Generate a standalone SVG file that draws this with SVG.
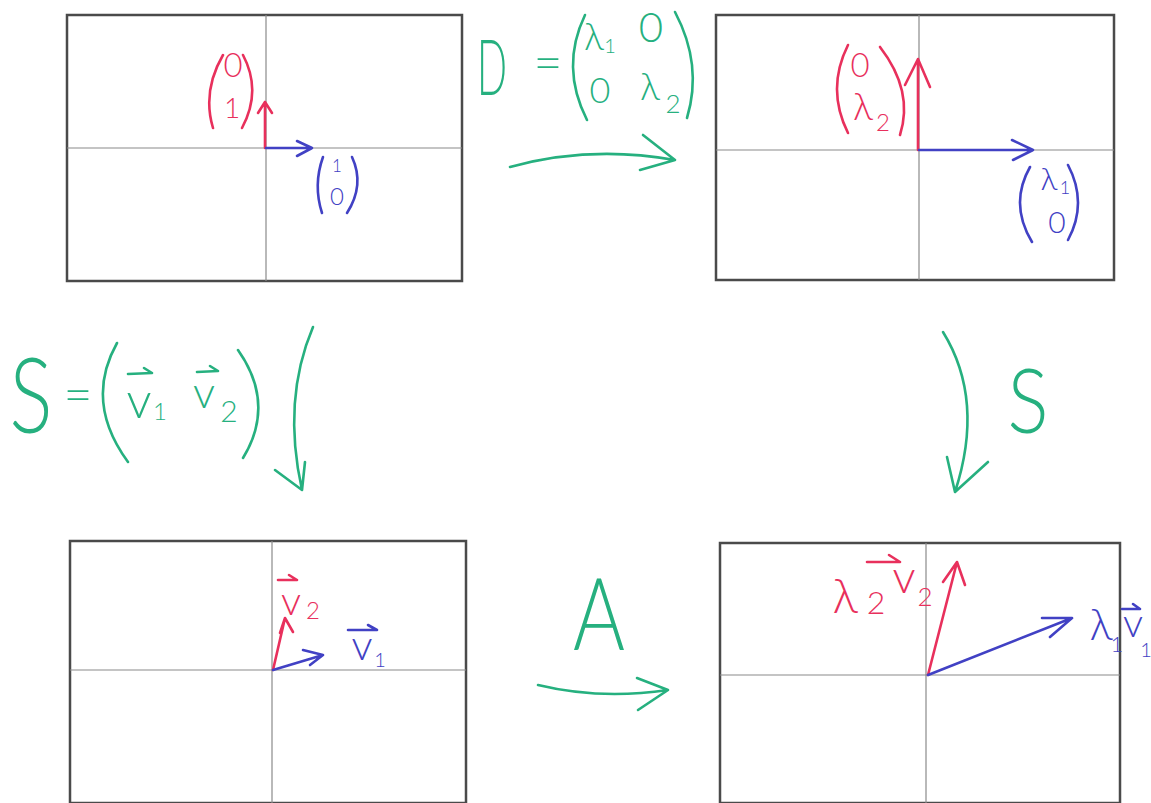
<svg xmlns="http://www.w3.org/2000/svg" width="1151" height="803" viewBox="0 0 1151 803">
<style>
.frame{fill:none;stroke:#4a4a4a;stroke-width:2.5}
.axis{stroke:#8a8a8a;stroke-width:1.2;fill:none}
.g{stroke:#26b07f;stroke-width:2.6;fill:none;stroke-linecap:round;stroke-linejoin:round}
.r{stroke:#e8305c;stroke-width:2.6;fill:none;stroke-linecap:round;stroke-linejoin:round}
.b{stroke:#4141c4;stroke-width:2.6;fill:none;stroke-linecap:round;stroke-linejoin:round}
text{font-family:Lato,Roboto,Inter,"Liberation Sans",sans-serif;font-weight:300;text-anchor:middle}
.tg{fill:#26b07f}
.tr{fill:#e8305c}
.tb{fill:#4141c4}
</style>
<rect width="1151" height="803" fill="#ffffff"/>

<g id="box1">
<rect class="frame" x="67" y="15" width="395" height="266"/>
<line class="axis" x1="67" y1="148" x2="462" y2="148"/>
<line class="axis" x1="266" y1="15" x2="266" y2="281"/>
<path class="r" d="M265,148 L265,102 M258,113 L265,102 L272,113"/>
<path class="b" d="M266,148 L312,148 M297,141 L312,148 L297,156"/>
<path class="r" d="M223,55 Q202,91 213,128 M243,55 Q262,91 242,128"/>
<text class="tr" x="233" y="77" font-size="33">0</text>
<text class="tr" x="232" y="118" font-size="28">1</text>
<path class="b" d="M323,157 Q313,185 322,213 M352,157 Q365,185 347,213"/>
<text class="tb" x="337" y="172" font-size="17">1</text>
<text class="tb" x="337" y="205" font-size="24">0</text>
</g>

<g id="box2">
<rect class="frame" x="716" y="15" width="398" height="265"/>
<line class="axis" x1="716" y1="150" x2="1114" y2="150"/>
<line class="axis" x1="919" y1="15" x2="919" y2="280"/>
<path class="r" d="M918,150 L918,59 M905,85 L918,59 L930,87"/>
<path class="b" d="M919,150 L1033,150 M1012,140 L1033,150 L1013,160"/>
<path class="r" d="M848,45 Q826,89 848,133 M880,47 Q914,91 900,135"/>
<text class="tr" x="860" y="77" font-size="33">0</text>
<text class="tr" x="863" y="120" font-size="38">λ</text>
<text class="tr" x="883" y="131" font-size="24">2</text>
<path class="b" d="M1030,167 Q1009,204 1032,242 M1068,165 Q1088,203 1068,240"/>
<text class="tb" x="1049" y="190" font-size="32">λ</text>
<text class="tb" x="1065" y="194" font-size="18">1</text>
<text class="tb" x="1057" y="233" font-size="30">0</text>
</g>

<g id="box3">
<rect class="frame" x="70" y="541" width="396" height="262"/>
<line class="axis" x1="70" y1="670" x2="466" y2="670"/>
<line class="axis" x1="272" y1="541" x2="272" y2="803"/>
<path class="r" d="M273,670 L285,618 M280,633 L285,618 L293,632"/>
<path class="b" d="M273,670 L323,655 M303,650 L323,655 L310,665"/>
<path class="r" d="M278,580 L297,580 M289,575 L297,580"/>
<text class="tr" x="291" y="615" font-size="40">v</text>
<text class="tr" x="313" y="619" font-size="24">2</text>
<path class="b" d="M348,630 L377,630 M368,625 L377,630"/>
<text class="tb" x="362" y="660" font-size="42">v</text>
<text class="tb" x="380" y="667" font-size="20">1</text>
</g>

<g id="box4">
<rect class="frame" x="720" y="543" width="400" height="260"/>
<line class="axis" x1="720" y1="675" x2="1120" y2="675"/>
<line class="axis" x1="926" y1="543" x2="926" y2="803"/>
<path class="r" d="M928,675 L957,562 M943,582 L957,562 L965,585"/>
<path class="b" d="M928,675 L1072,618 M1042,618 L1072,618 L1050,637"/>
<text class="tr" x="845" y="613" font-size="48">λ</text>
<text class="tr" x="876" y="614" font-size="32">2</text>
<path class="r" d="M867,562 L900,562 M889,555 L900,562"/>
<text class="tr" x="904" y="593" font-size="46">v</text>
<text class="tr" x="925" y="606" font-size="26">2</text>
<text class="tb" x="1101" y="640" font-size="44">λ</text>
<text class="tb" x="1117" y="652" font-size="22">1</text>
<path class="b" d="M1122,609 L1140,609 M1133,604 L1140,609"/>
<text class="tb" x="1133" y="637" font-size="40">v</text>
<text class="tb" x="1146" y="657" font-size="20">1</text>
</g>

<g id="label-D">
<text class="tg" x="492" y="95" font-size="76" textLength="30" lengthAdjust="spacingAndGlyphs">D</text>
<text class="tg" x="548" y="80" font-size="50">=</text>
<path class="g" d="M585,15 Q560,67 587,120 M675,12 Q703,65 687,118"/>
<text class="tg" x="594" y="50" font-size="38">λ</text>
<text class="tg" x="610" y="53" font-size="20">1</text>
<text class="tg" x="651" y="42" font-size="42">0</text>
<text class="tg" x="600" y="103" font-size="36">0</text>
<text class="tg" x="650" y="100" font-size="38">λ</text>
<text class="tg" x="673" y="113" font-size="26">2</text>
</g>

<g id="label-S-left">
<text class="tg" x="31" y="433" font-size="104" textLength="43" lengthAdjust="spacingAndGlyphs">S</text>
<text class="tg" x="78" y="412" font-size="50">=</text>
<path class="g" d="M117,343 Q84,402 128,462 M238,350 Q276,404 243,458"/>
<path class="g" d="M128,374 L152,373 M144,368 L152,373"/>
<text class="tg" x="139" y="418" font-size="50">v</text>
<text class="tg" x="160" y="420" font-size="24">1</text>
<path class="g" d="M197,372 L218,371 M210,366 L218,371"/>
<text class="tg" x="204" y="408" font-size="44">v</text>
<text class="tg" x="229" y="422" font-size="30">2</text>
</g>

<g id="label-S-right">
<text class="tg" x="1028" y="433" font-size="90" textLength="41" lengthAdjust="spacingAndGlyphs">S</text>
</g>

<g id="label-A">
<text class="tg" x="599" y="650" font-size="100" textLength="52" lengthAdjust="spacingAndGlyphs">A</text>
</g>

<g id="connectors">
<path class="g" d="M510,167 Q590,145 675,160 M643,135 L675,160 L640,170"/>
<path class="g" d="M313,327 Q282,400 302,490 M275,470 L302,490 L305,462"/>
<path class="g" d="M943,332 Q985,400 955,492 M947,457 L955,492 L988,462"/>
<path class="g" d="M538,685 Q600,700 668,690 M637,678 L668,690 L638,710"/>
</g>
</svg>
